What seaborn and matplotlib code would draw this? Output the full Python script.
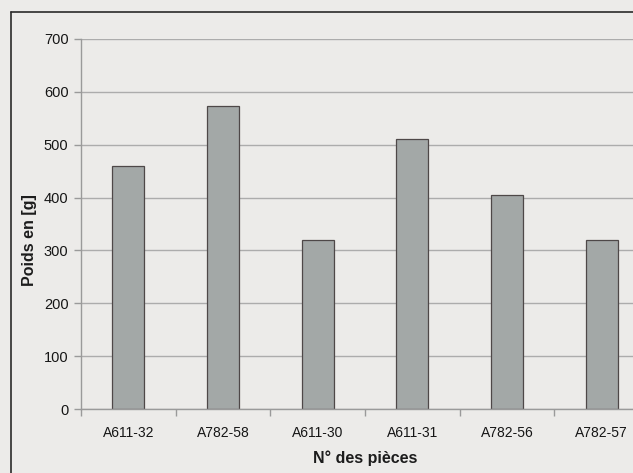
import matplotlib
matplotlib.use("Agg")
import matplotlib.pyplot as plt
from matplotlib.lines import Line2D
import seaborn as sns
import pandas as pd

# Weights of the pieces, in grams
pieces = ["A611-32", "A782-58", "A611-30", "A611-31", "A782-56", "A782-57"]
poids = [460, 574, 319, 511, 405, 320]
y_ticks = [0, 100, 200, 300, 400, 500, 600, 700]

df = pd.DataFrame({"piece": pieces, "poids": poids})

sns.set_theme(style="white")
plt.rcParams["font.family"] = ["Liberation Sans", "DejaVu Sans"]

paper = "#ecebe9"
W, H = 633, 473
fig = plt.figure(figsize=(W / 100, H / 100), dpi=100, facecolor=paper)

# plot area runs past the right edge of the sheet
ax = fig.add_axes([81 / W, 64 / H, 568 / W, 370 / H])
ax.set_facecolor(paper)

sns.barplot(data=df, x="piece", y="poids", ax=ax, color="#a3a8a7",
            saturation=1, width=0.34, edgecolor="#4e4848", linewidth=0.9)

ax.set_ylim(0, 700)
ax.set_yticks(y_ticks)
ax.set_xlim(-0.5, len(pieces) - 0.5)
ax.grid(axis="y", color="#acacac", linewidth=1.0)
ax.set_axisbelow(True)

for side in ["top", "right"]:
    ax.spines[side].set_visible(False)
ax.spines["left"].set_color("#9a9a9a")
ax.spines["bottom"].set_color("#9a9a9a")
ax.spines["left"].set_linewidth(1.0)
ax.spines["bottom"].set_linewidth(1.0)

# category separators on the x axis
ax.set_xticks(range(len(pieces)))
ax.set_xticklabels(pieces)
ax.set_xticks([i + 0.5 for i in range(-1, len(pieces))], minor=True)
ax.tick_params(axis="x", which="major", length=0, pad=12, labelsize=10,
               labelcolor="#161616")
ax.tick_params(axis="x", which="minor", length=5, color="#9a9a9a", width=1,
               direction="out", bottom=True)
ax.tick_params(axis="y", length=5, color="#9a9a9a", width=1, direction="out",
               left=True, pad=4, labelsize=10.5, labelcolor="#161616")

ax.set_xlabel("N° des pièces", fontsize=11.5, fontweight="bold",
              color="#1c1c1c", labelpad=8)
ax.set_ylabel("")
fig.text(30 / W, 1 - 240 / H, "Poids en [g]", rotation=90, ha="center",
         va="center", fontsize=11.5, fontweight="bold", color="#1c1c1c")

# chart frame, cut by the edges of the sheet
fig.add_artist(Line2D([11 / W, 11 / W], [0, 1 - 12 / H],
                      transform=fig.transFigure, color="#2a2a2a", lw=1.2))
fig.add_artist(Line2D([11 / W, 1], [1 - 12 / H, 1 - 12 / H],
                      transform=fig.transFigure, color="#2a2a2a", lw=1.2))

fig.savefig("out.png", dpi=100, facecolor=paper)
